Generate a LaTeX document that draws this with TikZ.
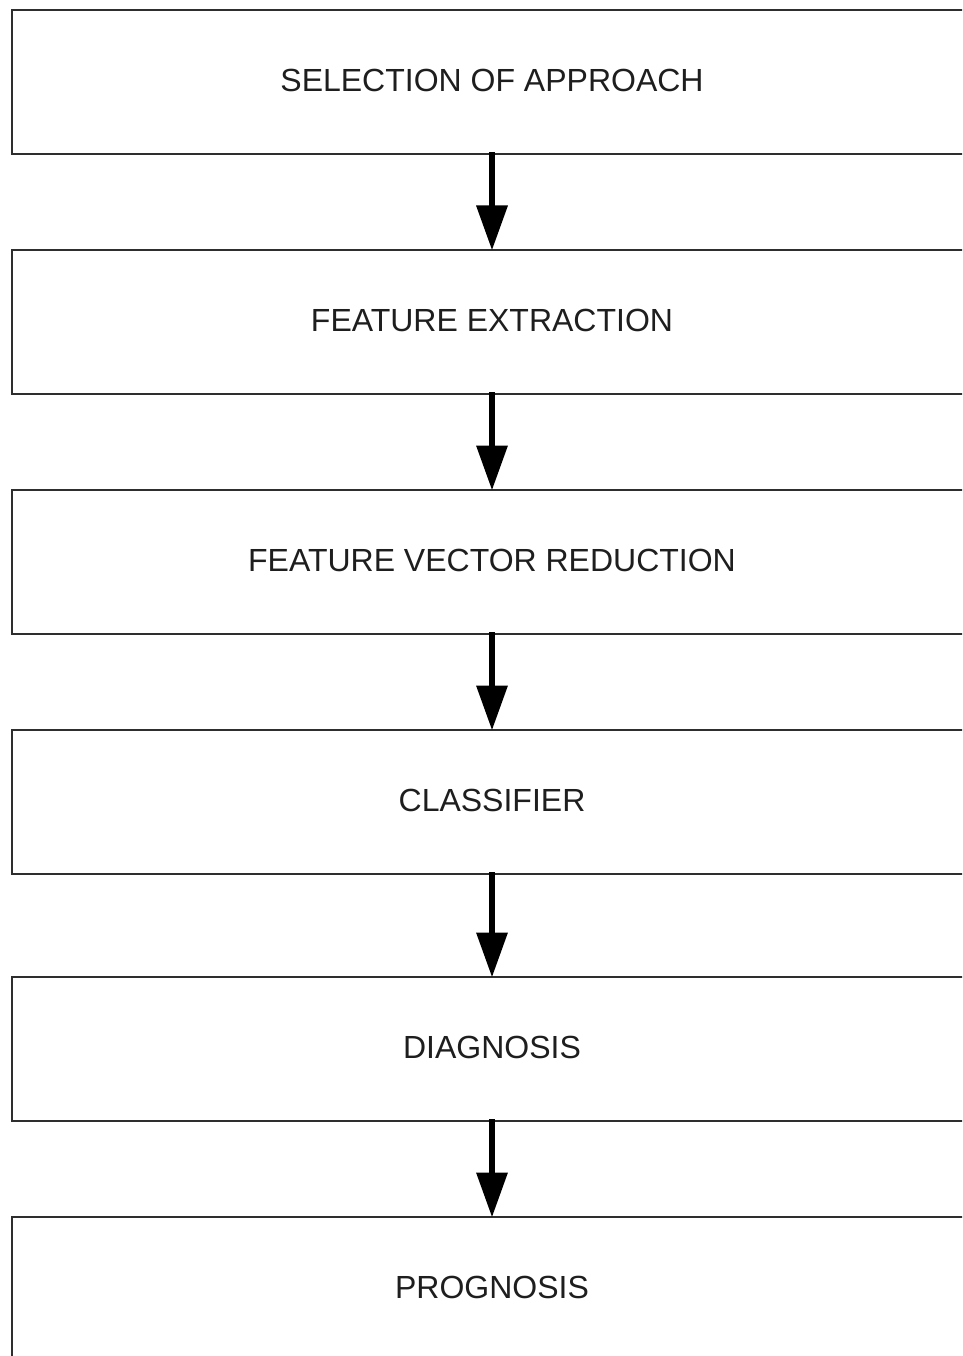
\documentclass[tikz,border=0pt]{standalone}
\usepackage{fontspec}
\setmainfont{Liberation Sans}
\usetikzlibrary{arrows.meta}
\definecolor{boxline}{HTML}{2E2E2E}
\definecolor{txt}{HTML}{1E1E1E}
\tikzset{
  stepbox/.style={draw=boxline, line width=2pt, rectangle, minimum width=960pt, minimum height=144pt,
    inner sep=0pt, text=txt, font=\fontsize{32}{38}\selectfont, text height=19pt, text depth=0pt},
  flow/.style={line width=6.5pt, black, -{Triangle[width=30pt,length=45pt]}, shorten <=-3pt, shorten >=-1.5pt}
}
\begin{document}
\begin{tikzpicture}[x=1pt,y=-1pt]
\useasboundingbox (0,0) rectangle (962,1356);
\clip (0,0) rectangle (962,1356);
\fill[white] (0,0) rectangle (962,1356);
\node[stepbox] (b1) at (492,82) {SELECTION OF APPROACH};
\node[stepbox] (b2) at (492,322) {FEATURE EXTRACTION};
\node[stepbox] (b3) at (492,562) {FEATURE VECTOR REDUCTION};
\node[stepbox] (b4) at (492,802) {CLASSIFIER};
\node[stepbox] (b5) at (492,1049) {DIAGNOSIS};
\node[stepbox] (b6) at (492,1289) {PROGNOSIS};
\draw[flow] (b1.south) -- (b2.north);
\draw[flow] (b2.south) -- (b3.north);
\draw[flow] (b3.south) -- (b4.north);
\draw[flow] (b4.south) -- (b5.north);
\draw[flow] (b5.south) -- (b6.north);
\end{tikzpicture}
\end{document}
